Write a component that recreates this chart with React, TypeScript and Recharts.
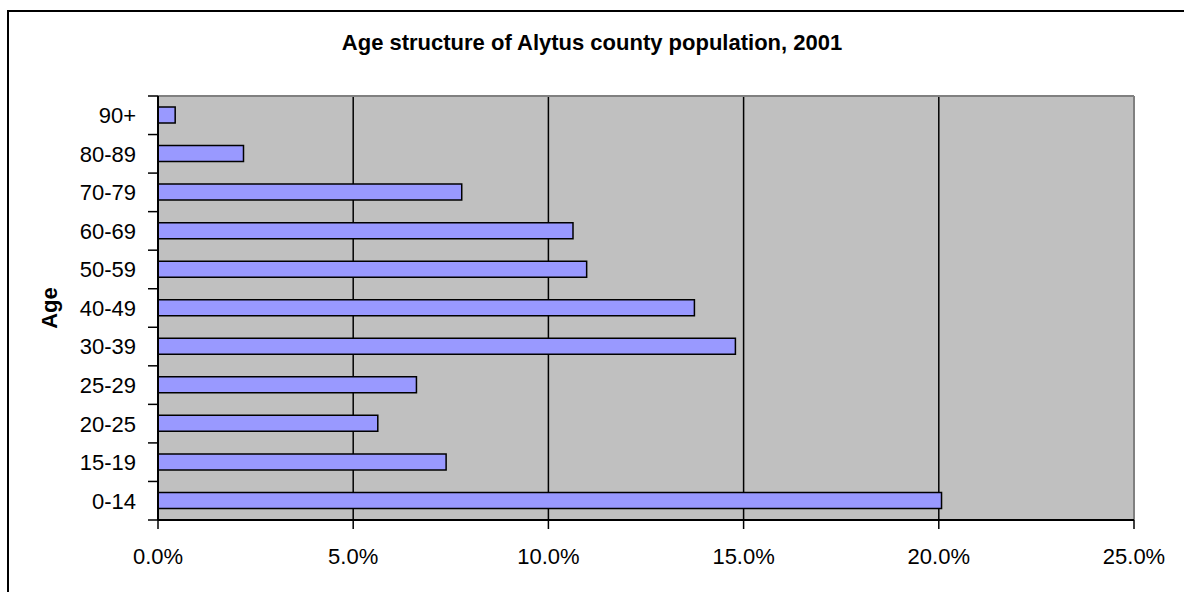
import { BarChart, Bar, XAxis, YAxis, CartesianGrid, ReferenceLine } from "recharts";

const FONT = '"Liberation Sans", Arial, sans-serif';

// Share of population by age group, %
const ageGroups = ["0-14", "15-19", "20-25", "25-29", "30-39", "40-49", "50-59", "60-69", "70-79", "80-89", "90+"];
const shares = [20.07, 7.38, 5.63, 6.62, 14.79, 13.74, 10.98, 10.63, 7.78, 2.19, 0.44];
const xTicks = [0, 5, 10, 15, 20, 25];

const data = ageGroups.map((age, i) => ({ age, share: shares[i] }));

const W = 1184;
const H = 592;
const MARGIN = { top: 96, right: 50, bottom: 32, left: 58 };
const X_AXIS_H = 40;
const Y_AXIS_W = 100;
const BAND = (H - MARGIN.top - MARGIN.bottom - X_AXIS_H) / ageGroups.length;

// category label plus an outward tick on the band boundary (Excel style)
function AgeTick(props: any) {
  const { x, y, payload } = props;
  const top = y - BAND / 2;
  const bottom = y + BAND / 2;
  return (
    <g>
      <line x1={x - 10} x2={x} y1={top} y2={top} stroke="#000" strokeWidth={1.5} />
      {payload.value === ageGroups[0] && (
        <line x1={x - 10} x2={x} y1={bottom} y2={bottom} stroke="#000" strokeWidth={1.5} />
      )}
      <text x={x - 22} y={y} dy="0.36em" textAnchor="end" fontSize={22} fontFamily={FONT} fill="#000">
        {payload.value}
      </text>
    </g>
  );
}

function AgeLabel(props: any) {
  const vb = props.viewBox || {};
  const cx = vb.x - 9;
  const cy = vb.y + vb.height / 2;
  return (
    <text
      x={cx}
      y={cy}
      transform={`rotate(-90 ${cx} ${cy})`}
      textAnchor="middle"
      dy="0.36em"
      fontSize={22}
      fontWeight="bold"
      fontFamily={FONT}
      fill="#000"
    >
      Age
    </text>
  );
}

export default function App() {
  return (
    <div
      style={{
        position: "fixed",
        left: 0,
        top: 0,
        width: W,
        height: H,
        background: "#fff",
        overflow: "hidden",
        fontFamily: FONT,
      }}
    >
      <div
        style={{
          position: "absolute",
          left: 7,
          top: 10,
          width: W + 20,
          height: H + 20,
          border: "2px solid #000",
        }}
      />
      <div
        style={{
          position: "absolute",
          left: 0,
          top: 30,
          width: W,
          textAlign: "center",
          fontSize: 22,
          fontWeight: "bold",
          color: "#000",
        }}
      >
        Age structure of Alytus county population, 2001
      </div>
      <BarChart
        width={W}
        height={H}
        data={data}
        layout="vertical"
        margin={MARGIN}
        style={{ position: "absolute", left: 0, top: 0 }}
      >
        <CartesianGrid fill="#C0C0C0" horizontal={false} stroke="#000" strokeWidth={1.5} strokeOpacity={1} />
        <CartesianGrid
          vertical={false}
          horizontalCoordinatesGenerator={({ offset }: any) => [offset.top]}
          stroke="#808080"
          strokeWidth={2}
          strokeOpacity={1}
        />
        <XAxis
          type="number"
          domain={[0, 25]}
          ticks={xTicks}
          height={X_AXIS_H}
          tickFormatter={(v: number) => `${v.toFixed(1)}%`}
          axisLine={{ stroke: "#000", strokeWidth: 2 }}
          tickLine={{ stroke: "#000", strokeWidth: 1.5 }}
          tickSize={9}
          tickMargin={19}
          tick={{ fontSize: 22, fontFamily: FONT, fill: "#000" }}
        />
        <YAxis
          type="category"
          dataKey="age"
          reversed
          width={Y_AXIS_W}
          interval={0}
          axisLine={{ stroke: "#000", strokeWidth: 2 }}
          tickLine={false}
          tickSize={0}
          tickMargin={0}
          tick={<AgeTick />}
          label={{ value: "Age", content: <AgeLabel /> }}
        />
        <ReferenceLine x={25} stroke="#808080" strokeWidth={2} ifOverflow="visible" />
        <Bar dataKey="share" fill="#9999FF" stroke="#000" strokeWidth={1.5} barSize={16} isAnimationActive={false} />
      </BarChart>
    </div>
  );
}
